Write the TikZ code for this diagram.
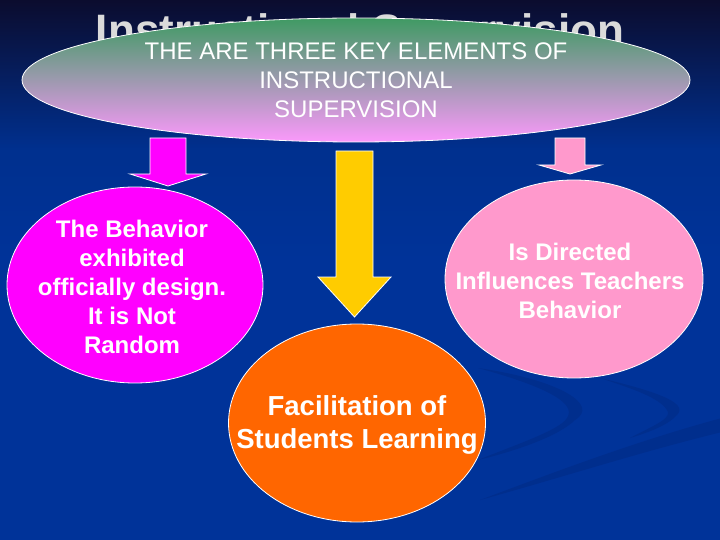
\documentclass[tikz,border=0pt]{standalone}
\usepackage{fontspec}
\setmainfont{Liberation Sans}
\usetikzlibrary{shapes.geometric}
\definecolor{bgtop}{HTML}{0B0C2E}
\definecolor{bgmid}{HTML}{00308F}
\definecolor{bgblue}{HTML}{003399}
\definecolor{swoosh}{HTML}{002C88}
\definecolor{titlegray}{HTML}{DADADA}
\definecolor{topgreen}{HTML}{3F9A63}
\definecolor{toppink}{HTML}{FB99FB}
\definecolor{magent}{HTML}{FF00FF}
\definecolor{pinkel}{HTML}{FF99CC}
\definecolor{yellowar}{HTML}{FFCC00}
\definecolor{orangec}{HTML}{FF6600}
\tikzset{
  blob/.style={ellipse, draw=white, line width=0.8pt, inner sep=0pt},
  blobtext/.style={text=white, align=center, inner sep=0pt},
  blockarrow/.style={draw=white, line width=0.8pt, line join=miter},
  boldtext/.style={font=\bfseries\fontsize{24}{29}\selectfont}
}
\begin{document}
\begin{tikzpicture}[x=1pt,y=-1pt]
\useasboundingbox (0,0) rectangle (720,540);
% background
\fill[bgblue] (0,0) rectangle (720,540);
\shade[top color=bgtop, bottom color=bgmid] (0,0) rectangle (720,150);
\fill[bgmid] (0,150) rectangle (720,160);
\shade[top color=bgmid, bottom color=bgblue] (0,160) rectangle (720,260);
% swoosh
\fill[swoosh, opacity=0.7] (478,368) .. controls (560,380) and (600,405) .. (575,420)
  .. controls (560,435) and (520,450) .. (478,460)
  .. controls (515,445) and (560,430) .. (567,418)
  .. controls (578,402) and (540,385) .. (478,368) -- cycle;
\fill[swoosh, opacity=0.7] (600,378) .. controls (650,390) and (690,402) .. (677,415)
  .. controls (668,425) and (650,432) .. (630,438)
  .. controls (648,428) and (670,420) .. (668,412)
  .. controls (662,398) and (630,388) .. (600,378) -- cycle;
\fill[swoosh, opacity=0.7] (480,500) .. controls (560,470) and (640,440) .. (722,418)
  -- (722,432) .. controls (640,452) and (560,478) .. (480,500) -- cycle;
% title
\node[text=titlegray, font=\bfseries\fontsize{44}{50}\selectfont, anchor=base] (title) at (360,46) {Instructional Supervision};
% top ellipse
\node[blob, top color=topgreen, bottom color=toppink, minimum width=668, minimum height=124] (top) at (356,80) {};
\node[blobtext, font=\fontsize{24}{29}\selectfont] (toptext) at (top.center) {THE ARE THREE KEY ELEMENTS OF\\INSTRUCTIONAL\\SUPERVISION};
% arrows
\fill[magent, blockarrow] (150,138) -- (186,138) -- (186,174) -- (206,174) -- (168,186) -- (130,174) -- (150,174) -- cycle;
\fill[pinkel, blockarrow] (555,138) -- (585,138) -- (585,165) -- (601,165) -- (570,174) -- (539,165) -- (555,165) -- cycle;
\fill[yellowar, blockarrow] (336,151) -- (373,151) -- (373,277) -- (391,277) -- (354.5,317) -- (318,277) -- (336,277) -- cycle;
% element ellipses
\node[blob, fill=magent, minimum width=256, minimum height=196] (left) at (135,285) {};
\node[blobtext, boldtext] (lefttext) at (132,287) {The Behavior\\exhibited\\officially design.\\It is Not\\Random};
\node[blob, fill=pinkel, minimum width=258, minimum height=198] (right) at (574,279) {};
\node[blobtext, boldtext] (righttext) at (570,281) {Is Directed\\Influences Teachers\\Behavior};
\node[blob, fill=orangec, minimum width=257, minimum height=198] (center) at (357,423) {};
\node[blobtext, font=\bfseries\fontsize{27.5}{33}\selectfont] (centertext) at (357,425) {Facilitation of\\Students Learning};
\end{tikzpicture}
\end{document}
